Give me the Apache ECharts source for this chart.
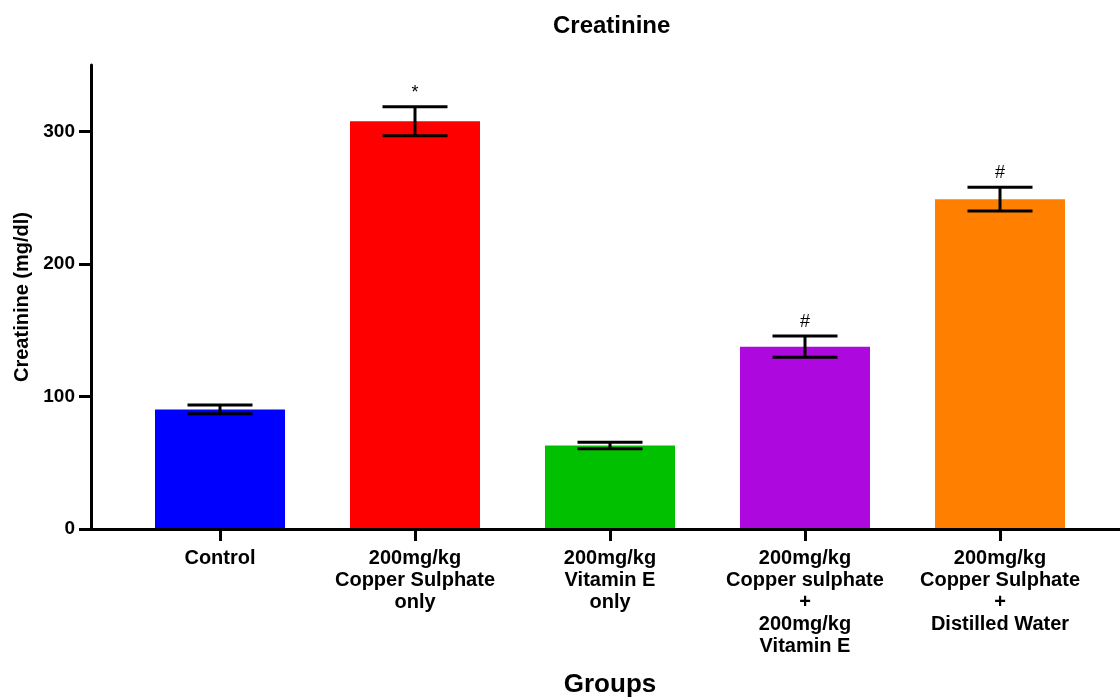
<!DOCTYPE html>
<html>
<head>
<meta charset="utf-8">
<title>Creatinine</title>
<script src="https://cdn.jsdelivr.net/npm/echarts@6/dist/echarts.min.js"></script>
<style>
  html, body { margin: 0; padding: 0; background: #ffffff; }
  #chart { width: 1120px; height: 697px; }
</style>
</head>
<body>
<div id="chart"></div>
<script>
// Group names (multi-line axis labels)
const groups = [
  'Control',
  '200mg/kg\nCopper Sulphate\nonly',
  '200mg/kg\nVitamin E\nonly',
  '200mg/kg\nCopper sulphate\n+\n200mg/kg\nVitamin E',
  '200mg/kg\nCopper Sulphate\n+\nDistilled Water'
];
// Mean creatinine (mg/dl) and its error (± SEM)
const means = [90.2, 307.6, 63.0, 137.5, 248.8];
const errors = [3.3, 11.0, 2.4, 8.0, 9.0];
// Significance marks above the error bars
const marks = ['', '*', '', '#', '#'];
const barColors = ['#0000FF', '#FF0000', '#00C000', '#AD08DE', '#FF8000'];
const yTicks = { min: 0, max: 350, interval: 100 };

const FONT = '"Liberation Sans", Arial, sans-serif';
const chart = echarts.init(document.getElementById('chart'), null, { renderer: 'canvas' });

const errorData = means.map((m, i) => [i, m - errors[i], m + errors[i], marks[i]]);

const option = {
  animation: false,
  backgroundColor: '#ffffff',
  title: {
    text: 'Creatinine',
    left: 548,
    top: 9,
    textStyle: { fontFamily: FONT, fontWeight: 'bold', fontSize: 24, color: '#000' }
  },
  grid: [
    { left: 122.5, right: 22.5, top: 65, bottom: 168, outerBoundsMode: 'none', containLabel: false },
    { left: 91, right: 0, top: 65, bottom: 168, outerBoundsMode: 'none', containLabel: false }
  ],
  xAxis: [
    {
      type: 'category',
      gridIndex: 0,
      data: groups,
      z: 10,
      axisLine: { show: false },
      axisTick: { show: true, alignWithLabel: true, length: 12, lineStyle: { color: '#000', width: 3 } },
      axisLabel: {
        interval: 0,
        margin: 18,
        fontFamily: FONT, fontWeight: 'bold', fontSize: 20, lineHeight: 22, color: '#000',
        align: 'center'
      },
      name: 'Groups',
      nameLocation: 'middle',
      nameGap: 143,
      nameTextStyle: { fontFamily: FONT, fontWeight: 'bold', fontSize: 26, color: '#000' }
    },
    {
      type: 'value',
      gridIndex: 1,
      min: 0, max: 1,
      z: 10,
      axisLine: { show: true, lineStyle: { color: '#000', width: 3 } },
      axisTick: { show: false },
      axisLabel: { show: false },
      splitLine: { show: false }
    }
  ],
  yAxis: [
    {
      type: 'value',
      gridIndex: 0,
      min: yTicks.min, max: yTicks.max, interval: yTicks.interval,
      offset: 31.5,
      z: 10,
      axisLine: { show: true, lineStyle: { color: '#000', width: 3 } },
      axisTick: { show: true, length: 12, lineStyle: { color: '#000', width: 3 } },
      axisLabel: {
        margin: 16,
        fontFamily: FONT, fontWeight: 'bold', fontSize: 19, color: '#000',
        showMaxLabel: false
      },
      splitLine: { show: false },
      name: 'Creatinine (mg/dl)',
      nameLocation: 'middle',
      nameGap: 58,
      nameTextStyle: { fontFamily: FONT, fontWeight: 'bold', fontSize: 20, color: '#000' }
    },
    {
      type: 'value',
      gridIndex: 1,
      show: false,
      min: 0, max: 1
    }
  ],
  series: [
    {
      type: 'bar',
      xAxisIndex: 0,
      yAxisIndex: 0,
      barWidth: 130,
      data: means.map((v, i) => ({ value: v, itemStyle: { color: barColors[i] } }))
    },
    {
      type: 'custom',
      xAxisIndex: 0,
      yAxisIndex: 0,
      z: 5,
      data: errorData,
      renderItem: function (params, api) {
        const x = api.value(0);
        const lo = api.coord([x, api.value(1)]);
        const hi = api.coord([x, api.value(2)]);
        const half = 32.5;
        const style = { stroke: '#000', lineWidth: 3 };
        const children = [
          { type: 'line', shape: { x1: hi[0], y1: hi[1], x2: lo[0], y2: lo[1] }, style: style },
          { type: 'line', shape: { x1: hi[0] - half, y1: hi[1], x2: hi[0] + half, y2: hi[1] }, style: style },
          { type: 'line', shape: { x1: lo[0] - half, y1: lo[1], x2: lo[0] + half, y2: lo[1] }, style: style }
        ];
        const mark = api.value(3);
        if (mark) {
          children.push({
            type: 'text',
            style: {
              text: mark, x: hi[0], y: hi[1] - 5,
              align: 'center', verticalAlign: 'bottom',
              font: 'normal 18px ' + FONT, fill: '#000'
            }
          });
        }
        return { type: 'group', children: children };
      }
    }
  ]
};

chart.setOption(option);
</script>
</body>
</html>
